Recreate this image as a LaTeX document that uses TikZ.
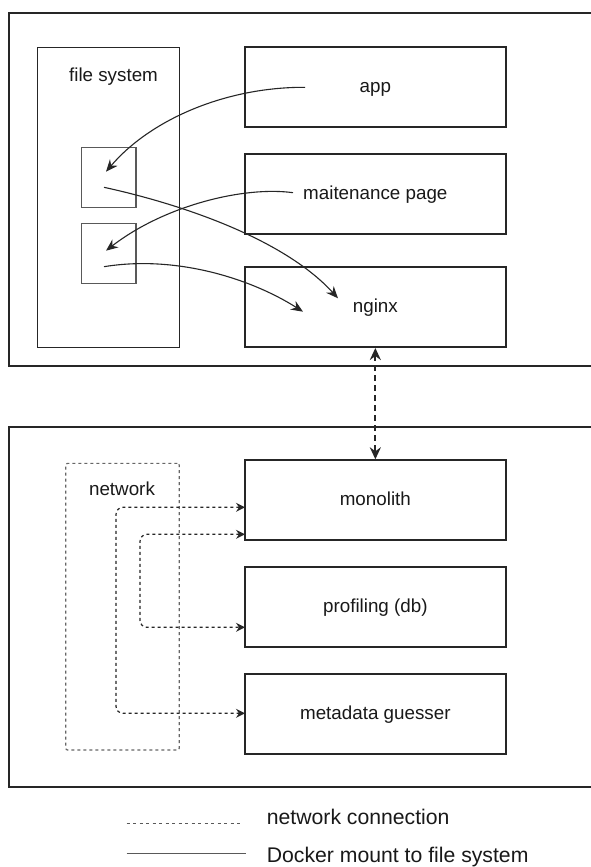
\documentclass[tikz,border=0pt]{standalone}
\usepackage{fontspec}
\setmainfont{Liberation Sans}
\usetikzlibrary{arrows.meta}
\begin{document}
\begin{tikzpicture}[x=1pt,y=-1pt,
  txt/.style={font=\fontsize{18.8}{22}\selectfont, text=black!90, text height=15pt, text depth=4pt, inner sep=0pt},
  lgtxt/.style={font=\fontsize{21.2}{24}\selectfont, text=black!90, inner sep=0pt},
  svc/.style={draw=black!85, line width=2pt, minimum width=260.7pt, minimum height=80pt, inner sep=0pt, txt},
  outerbox/.style={draw=black!85, line width=2pt, minimum width=602pt, inner sep=0pt},
  fsbox/.style={draw=black!85, line width=1pt, inner sep=0pt},
  mountbox/.style={draw=black!65, line width=1.3pt, minimum width=54.3pt, minimum height=60pt, inner sep=0pt},
  netbox/.style={draw=black!60, line width=1.2pt, dash pattern=on 3pt off 3pt, rounded corners=2pt, inner sep=0pt},
  link/.style={draw=black!85, line width=1.1pt, -{Stealth[length=12pt,width=10pt,inset=4pt]}},
  netlink/.style={draw=black!85, line width=1.2pt, dash pattern=on 3pt off 3pt, rounded corners=7pt, {Stealth[length=9pt,width=9pt,inset=3pt]}-{Stealth[length=9pt,width=9pt,inset=3pt]}},
  biglink/.style={draw=black!85, line width=2pt, dash pattern=on 6pt off 4pt, {Stealth[length=12pt,width=11pt,inset=4pt]}-{Stealth[length=12pt,width=11pt,inset=4pt]}},
]
\useasboundingbox (0,0) rectangle (591,867);
\fill[white] (0,0) rectangle (591,867);

% outer containers
\node[outerbox, minimum height=352.7pt] (top) at (310,189.7) {};
\node[outerbox, minimum height=360pt] (bottom) at (310,606.7) {};

% file system
\node[fsbox, minimum width=142.3pt, minimum height=300pt] (fs) at (108.8,197.3) {};
\node[txt] (fslabel) at (113.5,76) {file system};
\node[mountbox] (mnt1) at (108.8,177.3) {};
\node[mountbox] (mnt2) at (108.8,253.7) {};

% services top
\node[svc] (app) at (375.35,87.3) {app};
\node[svc] (maint) at (375.35,193.7) {maitenance page};
\node[svc] (nginx) at (375.35,307) {nginx};

% mount connectors
\coordinate (appsrc) at (305,87.3);
\coordinate (m1in) at (106,171.7);
\coordinate (m1out) at (104,187.3);
\coordinate (ngin1) at (338,298.3);
\coordinate (maintsrc) at (293,192.7);
\coordinate (m2in) at (106,250.7);
\coordinate (m2out) at (104,266.7);
\coordinate (ngin2) at (303,311.7);

\draw[link] (appsrc) .. controls (225,87) and (150,120) .. (m1in);
\draw[link] (m1out) .. controls (185,205) and (285,240) .. (ngin1);
\draw[link] (maintsrc) .. controls (245,186) and (165,205) .. (m2in);
\draw[link] (m2out) .. controls (175,255) and (250,278) .. (ngin2);

% network
\node[netbox, minimum width=113.6pt, minimum height=286.7pt] (net) at (122.5,606.7) {};
\node[txt] (netlabel) at (122,489.5) {network};

% services bottom
\node[svc] (mono) at (375.35,500.3) {monolith};
\node[svc] (prof) at (375.35,607.3) {profiling (db)};
\node[svc] (meta) at (375.35,713.7) {metadata guesser};

\draw[biglink] (nginx.south) -- (mono.north);

\coordinate (nA1) at (245,507.3);
\coordinate (nA2) at (245,713.3);
\coordinate (nB1) at (245,534.3);
\coordinate (nB2) at (245,627.3);
\draw[netlink] (nA1) -- (116,507.3) -- (116,713.3) -- (nA2);
\draw[netlink] (nB1) -- (140,534.3) -- (140,627.3) -- (nB2);

% legend
\coordinate (lg1a) at (126.7,823.3);
\coordinate (lg1b) at (243.3,823.3);
\coordinate (lg2a) at (126.7,853.3);
\coordinate (lg2b) at (246,853.3);
\draw[draw=black!65, line width=1.1pt, dash pattern=on 3pt off 3.5pt] (lg1a) -- (lg1b);
\draw[draw=black!65, line width=1.3pt] (lg2a) -- (lg2b);
\node[lgtxt, anchor=base west] (lgt1) at (266.7,824.3) {network connection};
\node[lgtxt, anchor=base west] (lgt2) at (266.7,862.5) {Docker mount to file system};
\end{tikzpicture}
\end{document}
